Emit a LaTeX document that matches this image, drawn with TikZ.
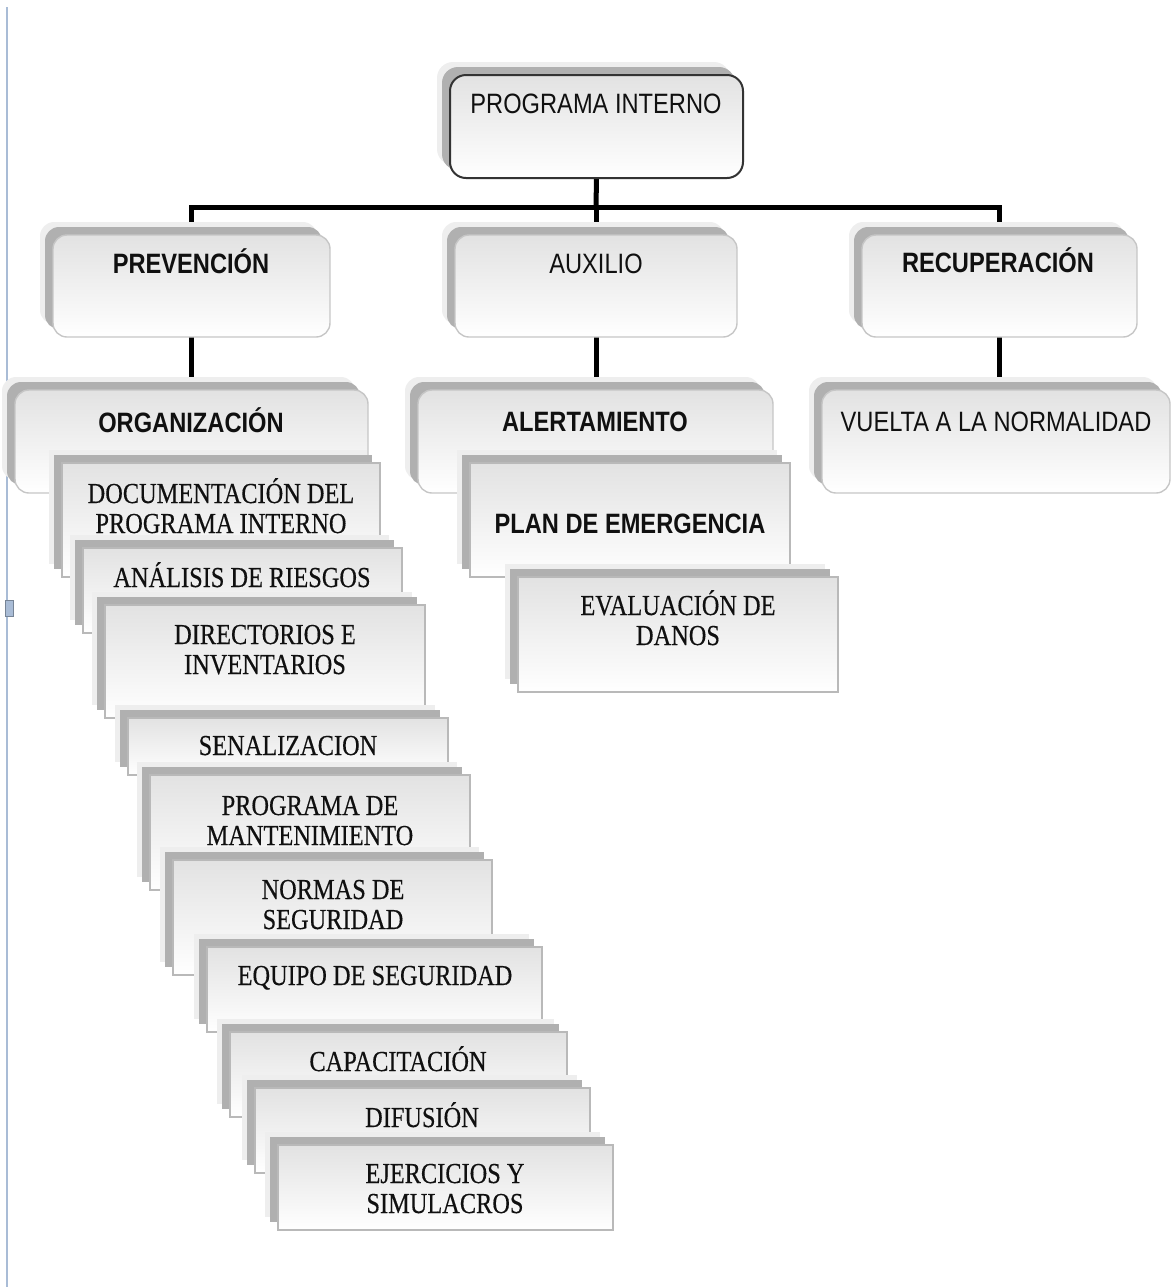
\documentclass[tikz,border=0pt]{standalone}
\usepackage{fontspec}
\setmainfont{Liberation Serif}
\newfontfamily\arial{Liberation Sans}
\usetikzlibrary{shadows}
\definecolor{boxtop}{HTML}{E2E2E2}
\definecolor{shd}{HTML}{B0B0B0}
\definecolor{halo}{HTML}{EEEEEE}
\definecolor{marg}{HTML}{A9BCD6}
\definecolor{txt}{HTML}{101010}
\pgfdeclarelayer{bg}\pgfsetlayers{bg,main}
\newcommand\sanar[1]{\scalebox{0.845}[1]{#1}}
\newcommand\sernar[1]{\scalebox{0.84}[1]{\begin{tabular}[t]{@{}c@{}}#1\end{tabular}}}
\newcommand\bx[6]{\node[#1, minimum width={(#5-#3)*0.5pt}, minimum height={(#6-#4)*0.5pt}] (#2) at ({(#3+#5)/2},{(#4+#6)/2}) {};}
\tikzset{
 base box/.style={inner sep=0pt, outer sep=0pt, top color=boxtop, bottom color=white,
   general shadow={fill=halo, shadow xshift=-6.5pt, shadow yshift=6.5pt},
   general shadow={fill=shd, shadow xshift=-4pt, shadow yshift=4pt}},
 rbox/.style={base box, rounded corners=7pt, draw=gray!45, line width=0.7pt},
 topbox/.style={base box, rounded corners=8pt, draw=black!80, line width=1pt},
 sbox/.style={base box, draw=gray!55, line width=0.6pt},
 conn/.style={line width=2.5pt, black},
 stxt/.style={anchor=base, inner sep=0pt, text=txt, font=\arial\fontsize{14}{15}\selectfont},
 btxt/.style={anchor=base, inner sep=0pt, text=txt, font=\arial\bfseries\fontsize{14}{15}\selectfont},
 rtxt/.style={anchor=base, inner sep=0pt, text=txt, font=\addfontfeature{FakeBold=0.4}\fontsize{14.5}{15}\selectfont},
}
\begin{document}
\begin{tikzpicture}[x=0.5pt,y=-0.5pt]
\useasboundingbox (0,0) rectangle (1172,1287);
% page margin mark
\draw[marg, line width=1.3pt] (7,7) -- (7,1287);
\draw[fill=marg, draw=marg!70!black, line width=0.4pt] (5,600) rectangle (13,616);

% upper boxes
\bx{topbox}{top}{450}{75}{743}{178}
\node[stxt] (t-top) at (596,113) {\sanar{PROGRAMA INTERNO}};
\bx{rbox}{prev}{53}{235}{330}{337}
\node[btxt] (t-prev) at (191,273) {\sanar{PREVENCIÓN}};
\bx{rbox}{aux}{455}{235}{737}{337}
\node[stxt] (t-aux) at (596,273) {\sanar{AUXILIO}};
\bx{rbox}{rec}{862}{235}{1137}{337}
\node[btxt] (t-rec) at (998,272) {\sanar{RECUPERACIÓN}};
\bx{rbox}{org}{15}{390}{368}{493}
\node[btxt] (t-org) at (191,432) {\sanar{ORGANIZACIÓN}};
\bx{rbox}{alert}{418}{390}{773}{493}
\node[btxt] (t-alert) at (595,431) {\sanar{ALERTAMIENTO}};
\bx{rbox}{vuelta}{822}{390}{1170}{493}
\node[stxt] (t-vuelta) at (996,431) {\sanar{VUELTA A LA NORMALIDAD}};

% auxilio stack
\bx{sbox}{plan}{470}{463}{790}{577}
\node[btxt] (t-plan) at (630,533) {\sanar{PLAN DE EMERGENCIA}};
\bx{sbox}{eval}{518}{577}{838}{692}
\node[rtxt] (t-eval) at (678,615) {\sernar{EVALUACIÓN DE\\DANOS}};

% prevention stack
\bx{sbox}{doc}{62}{463}{380}{577}
\node[rtxt] (t-doc) at (221,503) {\sernar{DOCUMENTACIÓN DEL\\PROGRAMA INTERNO}};
\bx{sbox}{anal}{83}{548}{402}{633}
\node[rtxt] (t-anal) at (242,587) {\sernar{ANÁLISIS DE RIESGOS}};
\bx{sbox}{dir}{105}{605}{425}{718}
\node[rtxt] (t-dir) at (265,644) {\sernar{DIRECTORIOS E\\INVENTARIOS}};
\bx{sbox}{sen}{128}{718}{448}{775}
\node[rtxt] (t-sen) at (288,755) {\sernar{SENALIZACION}};
\bx{sbox}{prog}{150}{775}{470}{890}
\node[rtxt] (t-prog) at (310,815) {\sernar{PROGRAMA DE\\MANTENIMIENTO}};
\bx{sbox}{norm}{173}{860}{492}{975}
\node[rtxt] (t-norm) at (333,899) {\sernar{NORMAS DE\\SEGURIDAD}};
\bx{sbox}{equip}{207}{947}{542}{1032}
\node[rtxt] (t-equip) at (375,985) {\sernar{EQUIPO DE SEGURIDAD}};
\bx{sbox}{cap}{230}{1032}{567}{1117}
\node[rtxt] (t-cap) at (398,1071) {\sernar{CAPACITACIÓN}};
\bx{sbox}{dif}{255}{1088}{590}{1173}
\node[rtxt] (t-dif) at (422,1127) {\sernar{DIFUSIÓN}};
\bx{sbox}{ej}{278}{1145}{613}{1230}
\node[rtxt] (t-ej) at (445,1183) {\sernar{EJERCICIOS Y\\SIMULACROS}};

% connectors
\begin{pgfonlayer}{bg}
\coordinate (bus) at (596,207);
\draw[conn] (top.south) -- (bus);
\draw[conn] (prev.north) |- (bus) -| (rec.north);
\draw[conn] (bus) -- (aux.north);
\draw[conn] (prev.south) -- (org.north);
\draw[conn] (aux.south) -- (aux.south |- alert.north);
\draw[conn] (rec.south) -- (rec.south |- vuelta.north);
\end{pgfonlayer}
\end{tikzpicture}
\end{document}
